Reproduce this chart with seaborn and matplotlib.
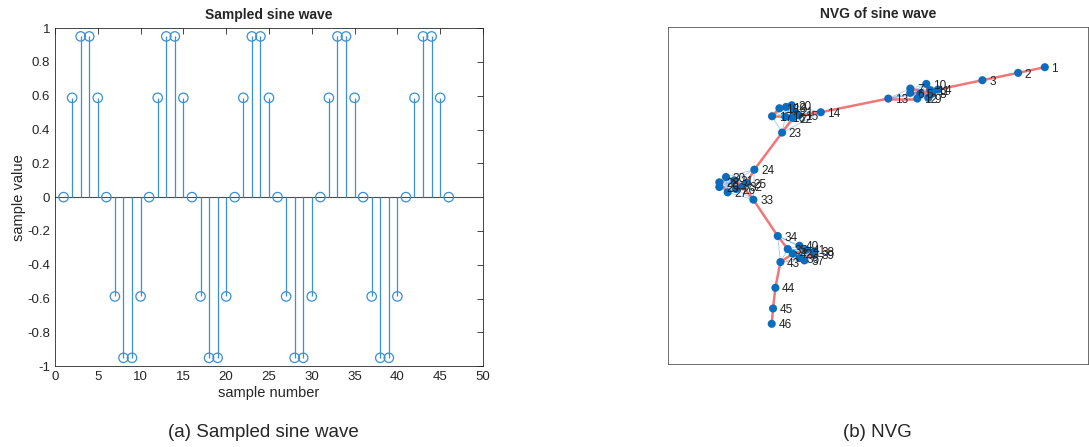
import matplotlib
matplotlib.use('Agg')
import matplotlib.pyplot as plt
import numpy as np
import pandas as pd
import seaborn as sns


# sampled sine values (sample number 1..46)
sample_number = list(range(1, 47))
sample_value = [0.0, 0.5878, 0.9511, 0.9511, 0.5878, 0.0, -0.5878, -0.9511, -0.9511, -0.5878,
                0.0, 0.5878, 0.9511, 0.9511, 0.5878, 0.0, -0.5878, -0.9511, -0.9511, -0.5878,
                0.0, 0.5878, 0.9511, 0.9511, 0.5878, 0.0, -0.5878, -0.9511, -0.9511, -0.5878,
                0.0, 0.5878, 0.9511, 0.9511, 0.5878, 0.0, -0.5878, -0.9511, -0.9511, -0.5878,
                0.0, 0.5878, 0.9511, 0.9511, 0.5878, 0.0]

# graph layout (layout units, y grows downward)
node_x = [1155, 1075, 968, 835, 782, 752, 752, 818, 806, 800, 812, 773, 686,
          484, 418, 378, 338, 360, 380, 397, 404, 400, 368,
          285, 262, 230, 205, 180, 180, 200, 225, 250, 282,
          355, 385, 420, 435, 465, 465, 420, 440, 400, 363,
          348, 341, 337]
node_y = [143, 160, 182, 210, 222, 220, 207, 222, 235, 193, 212, 237, 237,
          278, 287, 292, 290, 266, 262, 257, 275, 295, 339,
          450, 490, 508, 518, 488, 502, 472, 482, 500, 540,
          649, 688, 715, 722, 695, 705, 678, 690, 702, 727,
          804, 866, 912]

x_ticks = list(range(0, 51, 5))
y_ticks = [-1, -0.8, -0.6, -0.4, -0.2, 0, 0.2, 0.4, 0.6, 0.8, 1]
y_ticklabels = ['-1', '-0.8', '-0.6', '-0.4', '-0.2', '0', '0.2', '0.4', '0.6', '0.8', '1']


# natural visibility graph edges from the sampled values
def nvg_edges(y):
    n = len(y)
    edges = []
    for a in range(n):
        for b in range(a + 1, n):
            ok = True
            for c in range(a + 1, b):
                line = y[b] + (y[a] - y[b]) * (b - c) / (b - a)
                if y[c] >= line - 1e-9:
                    ok = False
                    break
            if ok:
                edges.append((a, b))
    return edges


sns.set_style('white')
plt.rcParams['font.family'] = ['Liberation Sans', 'DejaVu Sans']

stem_col = '#3b8fd4'
node_col = '#0c6cbd'

fig = plt.figure(figsize=(10.89, 4.47), dpi=100)
ax1 = fig.add_axes([0.0505, 0.181, 0.393, 0.756])
ax2 = fig.add_axes([0.613, 0.186, 0.386, 0.754])

# ---- (a) stem plot
df = pd.DataFrame({'n': sample_number, 'v': sample_value})
ax1.axhline(0, color='#4d4d4d', lw=0.8, zorder=1)
ax1.vlines(df['n'], 0, df['v'], color=stem_col, lw=0.9, zorder=2)
sns.scatterplot(data=df, x='n', y='v', ax=ax1, marker='o', s=46,
                facecolors='none', edgecolors=stem_col, linewidth=0.9, zorder=3)
ax1.set_xlim(0, 50)
ax1.set_ylim(-1, 1)
ax1.set_xticks(x_ticks)
ax1.set_yticks(y_ticks)
ax1.set_yticklabels(y_ticklabels)
ax1.tick_params(direction='in', top=True, right=True, labelsize=9.5,
                colors='#262626', length=4, width=0.6)
ax1.set_xlabel('sample number', fontsize=10.5, color='#262626', labelpad=2)
ax1.set_ylabel('sample value', fontsize=10.5, color='#262626', labelpad=1)
ax1.set_title('Sampled sine wave', fontsize=10, fontweight='bold', pad=6.5)
for s in ax1.spines.values():
    s.set_color('#262626')
    s.set_linewidth(0.6)

# ---- (b) NVG
edges = nvg_edges(sample_value)
for a, b in edges:
    if b == a + 1:
        continue
    ax2.plot([node_x[a], node_x[b]], [node_y[a], node_y[b]],
             color='#5e9fd8', lw=0.6, alpha=0.55, zorder=1)
for a, b in edges:
    if b == a + 1:
        ax2.plot([node_x[a], node_x[b]], [node_y[a], node_y[b]],
                 color='#f07777', lw=1.8, zorder=2)
nodes = pd.DataFrame({'x': node_x, 'y': node_y})
sns.scatterplot(data=nodes, x='x', y='y', ax=ax2, s=34, color=node_col,
                edgecolor='none', zorder=3)
for i in range(len(node_x)):
    ax2.text(node_x[i] + 20, node_y[i] + 5, str(i + 1), fontsize=8.5,
             color='#222222', va='center', ha='left', zorder=4)
ax2.set_xlim(25, 1284)
ax2.set_ylim(1032, 22)
ax2.set_xticks([])
ax2.set_yticks([])
ax2.set_xlabel('')
ax2.set_ylabel('')
ax2.set_title('NVG of sine wave', fontsize=10, fontweight='bold', pad=6.5)
for s in ax2.spines.values():
    s.set_color('#555555')
    s.set_linewidth(0.6)

fig.text(0.2415, 0.032, '(a) Sampled sine wave', fontsize=13.5, ha='center', va='center')
fig.text(0.806, 0.032, '(b) NVG', fontsize=13.5, ha='center', va='center')

fig.savefig('out.png', dpi=100)
